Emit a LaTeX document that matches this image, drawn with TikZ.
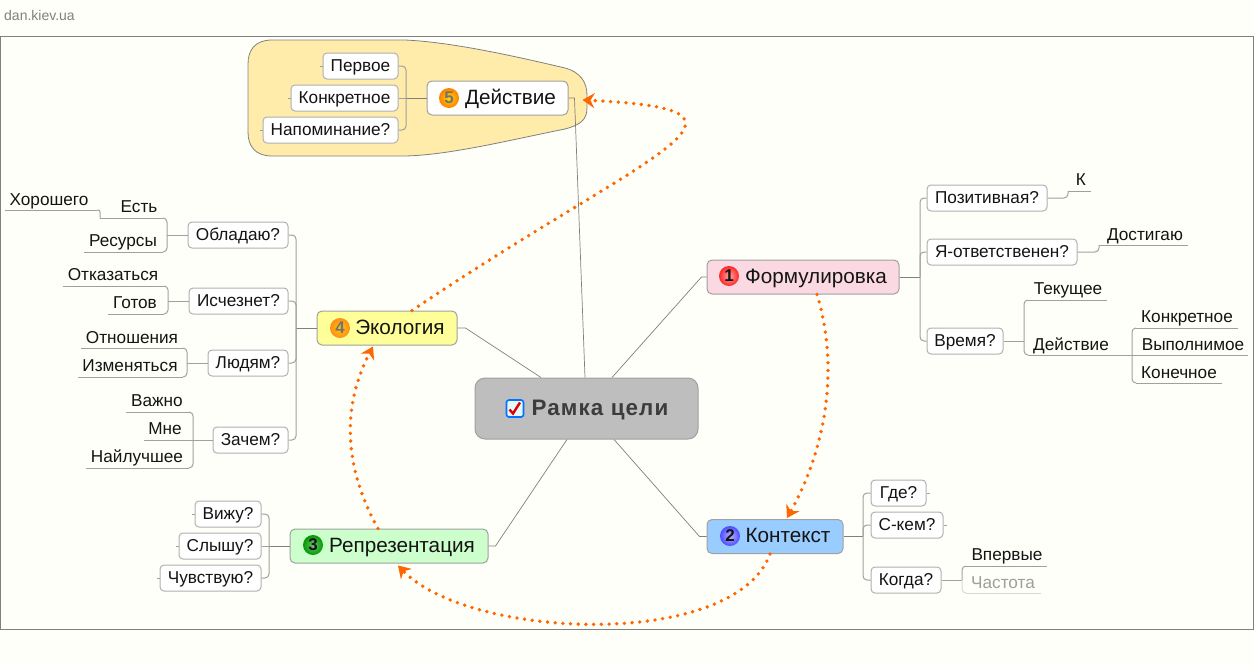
\documentclass[tikz,border=0pt]{standalone}
\usepackage{fontspec}
\setmainfont{Liberation Sans}
\usepackage{xcolor}
\usetikzlibrary{positioning,arrows.meta}
\definecolor{paper}{RGB}{255,255,249}
\definecolor{framegray}{RGB}{128,128,128}
\definecolor{edgegray}{RGB}{176,176,176}
\definecolor{busgray}{RGB}{160,160,160}
\definecolor{inkdark}{RGB}{20,20,20}
\definecolor{rootgray}{RGB}{190,190,190}
\definecolor{rootink}{RGB}{60,60,60}
\definecolor{softpink}{RGB}{251,217,227}
\definecolor{softblue}{RGB}{153,204,255}
\definecolor{softgreen}{RGB}{204,255,204}
\definecolor{softyellow}{RGB}{255,255,153}
\definecolor{blobyellow}{RGB}{255,236,170}
\definecolor{linkorange}{RGB}{255,102,0}

\begin{document}
\begin{tikzpicture}[
  x=1pt, y=-1pt,
  every node/.style={font=\fontsize{17.2}{19}\selectfont, text=inkdark},
  main/.style={rectangle, rounded corners=5pt, draw=busgray, line width=1pt, minimum height=34pt, inner sep=0pt,
    text height=15pt, text depth=3pt, font=\fontsize{20.7}{23}\selectfont},
  subbox/.style={rectangle, rounded corners=4pt, draw=edgegray, line width=1pt, fill=white, minimum height=26pt, inner sep=0pt,
    text height=13pt, text depth=2pt},
  leaf/.style={inner sep=0pt, text height=13pt, text depth=2.4pt},
  num/.style={circle, minimum size=20pt, inner sep=0pt, font=\fontsize{17}{17}\selectfont\bfseries},
  spoke/.style={draw=framegray, line width=0.7pt},
  trunk/.style={draw=framegray, line width=0.9pt},
  bus/.style={draw=busgray, line width=1pt, rounded corners=4pt},
  link/.style={draw=linkorange, line width=3.8pt, line cap=round, dash pattern=on 0pt off 7.7pt,
    -{Stealth[length=12pt,width=15pt,inset=4pt]}}
]
  \useasboundingbox (0,0) rectangle (1254,665);
  \fill[paper] (0,0) rectangle (1254,665);
  \draw[framegray, line width=1pt] (0.5,36) rectangle (1253.5,629);
  \node[font=\fontsize{14}{16}\selectfont, text=framegray, anchor=west, inner sep=0pt] (site) at (4,15) {dan.kiev.ua};

  \draw[draw=framegray, fill=blobyellow, line width=0.8pt] (272,40) -- (405,40)
    .. controls (450,42) and (510,55) .. (565,68)
    .. controls (580,72) and (587,82) .. (587,95)
    -- (587,108) .. controls (587,120) and (580,125) .. (565,129)
    .. controls (510,140) and (450,155) .. (405,156)
    -- (272,156) .. controls (255,156) and (248,146) .. (248,132)
    -- (248,64) .. controls (248,50) and (255,40) .. (272,40);

  \node[rectangle, rounded corners=10pt, draw=busgray, line width=1pt, fill=rootgray, minimum width=223pt, minimum height=61pt, inner sep=0pt,
    text height=17pt, text depth=3pt]
    (root) at (586.5,408.5)
    {\hspace*{27pt}\fontsize{22.4}{24}\selectfont\bfseries\addfontfeature{LetterSpace=5}\textcolor{rootink}{Рамка цели}};
  \node[main, fill=softpink, minimum width=192pt] (fml) at (803,277) {\hspace*{26pt}Формулировка};
  \node[main, fill=softblue, minimum width=136pt] (kon) at (775,536.5) {\hspace*{26pt}Контекст};
  \node[main, fill=softgreen, minimum width=198pt] (rep) at (389,546) {\hspace*{26pt}Репрезентация};
  \node[main, fill=softyellow, minimum width=140pt] (eco) at (387,328) {\hspace*{26pt}Экология};
  \node[main, fill=white, minimum width=141pt] (dei) at (497.5,98) {\hspace*{26pt}Действие};

  \node[num, shade, inner color=red!35, outer color=red!85] (one) at (729,276) {1};
  \node[num, shade, inner color=blue!30, outer color=blue!70] (two) at (730,536) {2};
  \node[num, shade, inner color=green!55!black!55, outer color=green!60!black] (three) at (313,545) {3};
  \node[num, shade, inner color=yellow!60!orange, outer color=orange!90] (four) at (340,328) {\textcolor{black!55}{4}};
  \node[num, shade, inner color=yellow!70!orange, outer color=orange] (five) at (449,98) {\textcolor{black!55}{5}};

  \node[rectangle, rounded corners=2.5pt, draw=blue!55!cyan, line width=1.6pt, fill=cyan!10, minimum size=17pt, inner sep=0pt] (chk) at (515,408.5) {};
  \draw[red!85!black, line width=2.4pt] (chk.center) ++(-5.5,1) -- ++(3.5,4) -- ++(7,-11);

  \foreach \name/\txt/\cx/\cy/\bw in {
    perv/Первое/360.5/66/75, konk/Конкретное/344.5/98/107, napm/Напоминание?/330.5/130/135,
    poz/Позитивная?/987/198/120, yao/Я-ответственен?/1002/252/150, vrm/Время?/965/341/76,
    obl/Обладаю?/238/235/100, isc/Исчезнет?/238.5/301/99, lud/Людям?/248/363/80, zac/Зачем?/250.5/440/75,
    viz/Вижу?/228/514/66, sly/Слышу?/220/546/82, chv/Чувствую?/210.5/578/101,
    gde/Где?/898.5/493/55, ske/С-кем?/907/525/72, kog/Когда?/906/580/70}
    \node[subbox, minimum width=\bw pt] (\name) at (\cx,\cy) {\txt};

  \foreach \name/\txt/\cx/\cy/\xa/\xb/\yl in {
    k/К/1081/180/1068/1091/191, dst/Достигаю/1145/235/1099/1188/245,
    tek/Текущее/1068/289/1028/1107/300, act/Действие/1071/345/1028/1132/355,
    knk/Конкретное/1187/317/1136/1238/328, vyp/Выполнимое/1193/345/1132/1248/355, kon2/Конечное/1179/373/1136/1222/383,
    hor/Хорошего/49/200/5/97/210, est/Есть/139/207/100/163/218, res/Ресурсы/123/241/84/163/252,
    otk/Отказаться/113/275/63/164/286, got/Готов/135/303/108/164/314,
    otn/Отношения/132/338/81/183/348, izm/Изменяться/130/366/78/183/377,
    vaz/Важно/157/401/126/189/412, mne/Мне/165/429/144/193/440, nay/Найлучшее/137/457/86/189/468,
    vpe/Впервые/1007/555/966/1047/566}
  {
    \node[leaf] (\name) at (\cx,\cy) {\txt};
    \draw[draw=busgray, line width=1pt] (\xa,\yl) coordinate (\name-l) -- (\xb,\yl) coordinate (\name-r);
  }
  \node[leaf, text=edgegray!90!black] (cha) at (1003,583) {Частота};
  \draw[draw=edgegray!50, line width=1pt] (966,593) coordinate (cha-l) -- (1041,593) coordinate (cha-r);

  \draw[spoke] (fml.west) -- ++(-5,0) -- ([xshift=25.5pt]root.north);
  \draw[spoke] (kon.west) -- ++(-7,0) -- ([xshift=27.5pt]root.south);
  \draw[spoke] (eco.east) -- ++(8,0) -- ([xshift=-45.5pt]root.north);
  \draw[spoke] (rep.east) -- ++(7,0) -- ([xshift=-19.5pt]root.south);
  \draw[spoke] (dei.east) -- ++(6,0) -- ([xshift=-1.5pt]root.north);

  \coordinate (dbus) at (406,98);
  \coordinate (fbus) at (920,277);
  \coordinate (vbus) at (1024,341);
  \coordinate (ebus) at (296,328);
  \coordinate (obus) at (167,235);
  \coordinate (ibus) at (168,301);
  \coordinate (lbus) at (187,363);
  \coordinate (zbus) at (193,440);
  \coordinate (sbus) at (269,546);
  \coordinate (cbus) at (863,536.5);
  \coordinate (gbus) at (962,580);

  \draw[trunk] (dei.west) -- (dbus);
  \draw[trunk] (fml.east) -- (fbus);
  \draw[trunk] (eco.west) -- (ebus);
  \draw[trunk] (rep.west) -- (sbus);
  \draw[trunk] (kon.east) -- (cbus);
  \draw[bus] (konk.east) -- (dbus);
  \draw[bus] (sly.east) -- (sbus);

  \foreach \n in {perv,napm} \draw[bus] (dbus) |- (\n.east);
  \foreach \n in {poz,yao,vrm} \draw[bus] (fbus) |- (\n.west);
  \foreach \n in {obl,isc,lud,zac} \draw[bus] (ebus) |- (\n.east);
  \foreach \n in {viz,chv} \draw[bus] (sbus) |- (\n.east);
  \foreach \n in {gde,ske,kog} \draw[bus] (cbus) |- (\n.west);

  \draw[bus] (poz.east) -| (k-l);
  \draw[bus] (yao.east) -| (dst-l);
  \draw[bus] (vrm.east) -- (vbus);
  \draw[bus] (vbus) |- (tek-l);
  \draw[bus] (vbus) |- (act-l);
  \draw[bus] (act-r) |- (knk-l);
  \draw[bus] (act-r) |- (kon2-l);
  \draw[bus] (obl.west) -- (obus);
  \draw[bus] (obus) |- (est-r);
  \draw[bus] (obus) |- (res-r);
  \draw[bus, rounded corners=2pt] (hor-r) -| (est-l);
  \draw[bus] (isc.west) -- (ibus);
  \draw[bus] (ibus) |- (otk-r);
  \draw[bus] (ibus) |- (got-r);
  \draw[bus] (lud.west) -- (lbus);
  \draw[bus] (lbus) |- (otn-r);
  \draw[bus] (lbus) |- (izm-r);
  \draw[bus] (zac.west) -- (zbus);
  \draw[bus] (zbus) |- (vaz-r);
  \draw[bus] (zbus) |- (nay-r);
  \draw[bus] (kog.east) -- (gbus);
  \draw[bus] (gbus) |- (vpe-l);
  \draw[bus, draw=edgegray!50] (gbus) |- (cha-l);

  \foreach \n in {perv,konk,napm,viz,sly,chv} \draw[bus] (\n.west) -- ++(-3,0);
  \foreach \n in {gde,ske} \draw[bus] (\n.east) -- ++(3,0);

  \draw[link] ([xshift=14pt]fml.south) .. controls (840,370) and (825,450) .. ([xshift=12pt,yshift=1pt]kon.north);
  \draw[link] ([xshift=-5pt]kon.south) .. controls (735,650) and (470,640) .. ([xshift=9pt,yshift=-2pt]rep.south);
  \draw[link] ([xshift=-11pt]rep.north) .. controls (340,460) and (345,400) .. ([xshift=-14pt,yshift=-1pt]eco.south);
  \draw[link] ([xshift=25pt]eco.north) .. controls (650,150) and (790,110) .. ([xshift=14pt,yshift=-2pt]dei.east);
\end{tikzpicture}
\end{document}
